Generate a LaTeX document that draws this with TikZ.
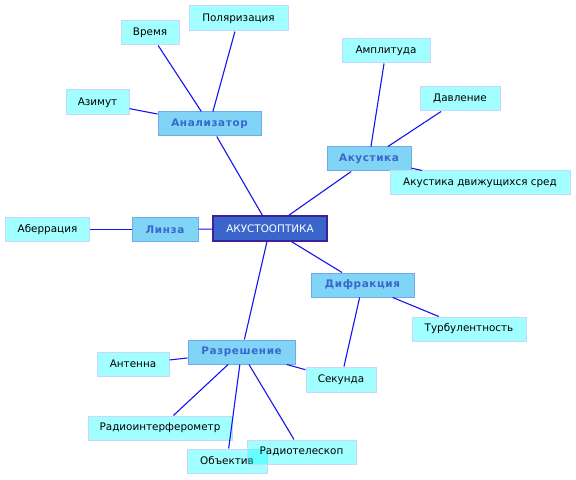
\documentclass[tikz,border=0pt]{standalone}
\usepackage{fontspec}
\setmainfont{DejaVu Sans}
\newfontfamily\catfont[LetterSpace=6]{DejaVu Sans}
\definecolor{edgeblue}{RGB}{20,20,240}
\definecolor{leafborder}{RGB}{200,216,250}
\definecolor{catfill}{RGB}{128,212,246}
\definecolor{catborder}{RGB}{112,170,232}
\definecolor{cattext}{RGB}{58,102,204}
\definecolor{rootfill}{RGB}{58,102,204}
\definecolor{rootborder}{RGB}{64,32,154}
\definecolor{pureCyan}{RGB}{0,255,255}
\tikzset{
  box/.style={rectangle, inner sep=0pt, align=center, font=\fontsize{10.4bp}{12bp}\selectfont},
  leaf/.style={box, fill=pureCyan, fill opacity=0.37, text opacity=1, draw=leafborder, draw opacity=1, line width=1bp},
  cat/.style={box, fill=catfill, draw=catborder, line width=1bp, text=cattext, font=\fontsize{10.4bp}{12bp}\catfont\bfseries},
  root/.style={box, fill=rootfill, draw=rootborder, line width=1.5bp, text=white},
  link/.style={draw=edgeblue, line width=1.1bp}
}
\begin{document}
\begin{tikzpicture}[x=1bp,y=-1bp]
\useasboundingbox (0,0) rectangle (576,480);
% root
\node[root, minimum width=114bp, minimum height=25bp] (root) at (270,228.5) {АКУСТООПТИКА};
% categories
\node[cat, minimum width=103bp, minimum height=24bp] (anal) at (209.5,124) {Анализатор};
\node[cat, minimum width=66bp, minimum height=24bp] (linza) at (165,229.5) {Линза};
\node[cat, minimum width=84bp, minimum height=24bp] (akust) at (369,159) {Акустика};
\node[cat, minimum width=103bp, minimum height=24bp] (difr) at (362.5,285) {Дифракция};
\node[cat, minimum width=107bp, minimum height=24bp] (razr) at (241.5,352) {Разрешение};
% leaves
\node[leaf, minimum width=99bp, minimum height=25bp] (polar) at (238.5,18.5) {Поляризация};
\node[leaf, minimum width=58bp, minimum height=24bp] (vremya) at (150,33) {Время};
\node[leaf, minimum width=63bp, minimum height=25bp] (azimut) at (97.5,102.5) {Азимут};
\node[leaf, minimum width=83bp, minimum height=24bp] (aberr) at (47.5,229.5) {Аберрация};
\node[leaf, minimum width=88bp, minimum height=24bp] (ampl) at (386,51) {Амплитуда};
\node[leaf, minimum width=80bp, minimum height=24bp] (davl) at (460,99) {Давление};
\node[leaf, minimum width=180bp, minimum height=24bp] (ads) at (480,183) {Акустика движущихся сред};
\node[leaf, minimum width=114bp, minimum height=24bp] (turb) at (469,329) {Турбулентность};
\node[leaf, minimum width=70bp, minimum height=25bp] (sek) at (341,379.5) {Секунда};
\node[leaf, minimum width=72bp, minimum height=24bp] (antenna) at (133,364) {Антенна};
\node[leaf, minimum width=144bp, minimum height=24bp] (rif) at (160,428) {Радиоинтерферометр};
\node[leaf, minimum width=80bp, minimum height=24bp] (obj) at (227,461) {Объектив};
\node[leaf, minimum width=109bp, minimum height=24bp, text depth=0pt] (rtel) at (301.5,452) {\raisebox{3bp}{Радиотелескоп}};
% links
\path[link] (root) -- (anal);
\path[link] (root) -- (linza);
\path[link] (root) -- (akust);
\path[link] (root) -- (difr);
\path[link] (root) -- (razr);
\path[link] (anal) -- (vremya);
\path[link] (anal) -- (polar);
\path[link] (anal) -- (azimut);
\path[link] (linza) -- (aberr);
\path[link] (akust) -- (ampl);
\path[link] (akust) -- (davl);
\path[link] (akust) -- (ads);
\path[link] (difr) -- (turb);
\path[link] (difr) -- (sek);
\path[link] (razr) -- (sek);
\path[link] (razr) -- (antenna);
\path[link] (razr) -- (rif);
\path[link] (razr) -- (obj);
\path[link] (razr) -- (rtel);
\end{tikzpicture}
\end{document}
